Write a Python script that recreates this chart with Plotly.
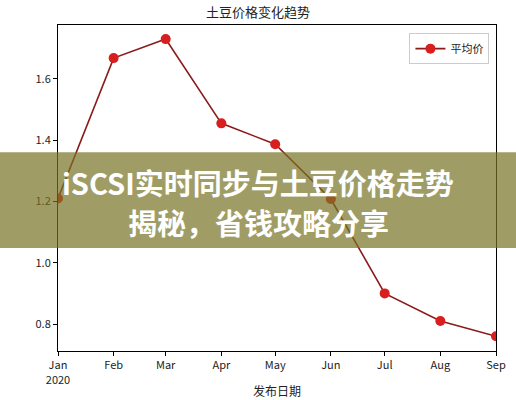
import plotly.graph_objects as go

# monthly average potato price
months = ["2020-01-01", "2020-02-01", "2020-03-01", "2020-04-01", "2020-05-01",
          "2020-06-01", "2020-07-01", "2020-08-01", "2020-09-01"]
avg_price = [1.21, 1.668, 1.73, 1.455, 1.387, 1.208, 0.90, 0.81, 0.76]
month_labels = ["Jan<br>2020", "Feb", "Mar", "Apr", "May", "Jun", "Jul", "Aug", "Sep"]
y_ticks = [0.8, 1.0, 1.2, 1.4, 1.6]

FONT = "Noto Sans CJK SC"

fig = go.Figure(
    go.Scatter(
        x=months,
        y=avg_price,
        mode="lines+markers",
        name="平均价",
        line=dict(color="#8b1a1a", width=1.6),
        marker=dict(color="#d81e1e", size=10),
    )
)

axis_common = dict(
    showline=True,
    linecolor="black",
    linewidth=1,
    mirror=True,
    showgrid=False,
    zeroline=False,
    automargin=False,
    ticks="outside",
    ticklen=4,
    tickcolor="black",
    tickfont=dict(family=FONT, size=11, color="#222"),
)

fig.update_xaxes(
    type="date",
    range=[months[0], months[-1]],
    tickvals=months,
    ticktext=month_labels,
    title=dict(text="发布日期", font=dict(family=FONT, size=12, color="#222"), standoff=2),
    **axis_common,
)
fig.update_yaxes(
    range=[0.712, 1.776],
    tickvals=y_ticks,
    ticktext=[f"{v:.1f}" for v in y_ticks],
    **axis_common,
)

# banner overlay across the middle of the picture
fig.add_shape(
    type="rect", xref="paper", yref="paper",
    x0=-0.14, x1=1.06, y0=0.316, y1=0.610,
    fillcolor="rgba(118,116,36,0.70)", line=dict(width=0), layer="above",
)
fig.add_annotation(
    text="<b>iSCSI实时同步与土豆价格走势</b>", xref="paper", yref="paper",
    x=0.457, y=0.518, showarrow=False,
    font=dict(family=FONT, size=29, color="white"),
)
fig.add_annotation(
    text="<b>揭秘，省钱攻略分享</b>", xref="paper", yref="paper",
    x=0.457, y=0.397, showarrow=False,
    font=dict(family=FONT, size=29, color="white"),
)

fig.update_layout(
    width=516,
    height=400,
    margin=dict(l=58, r=20, t=25, b=49),
    paper_bgcolor="white",
    plot_bgcolor="white",
    title=dict(text="土豆价格变化趋势", x=0.5, xanchor="center", y=0.97, yanchor="middle",
               font=dict(family=FONT, size=13, color="#222")),
    showlegend=True,
    legend=dict(
        x=0.985, y=0.975, xanchor="right", yanchor="top",
        bordercolor="#cccccc", borderwidth=1, bgcolor="white",
        font=dict(family=FONT, size=11, color="#222"),
    ),
)

# drop the page's default body margin so the figure sits at the window corner
fig.write_html(
    "out.html",
    config={"displayModeBar": False},
    post_script="document.body.style.margin='0';",
)
